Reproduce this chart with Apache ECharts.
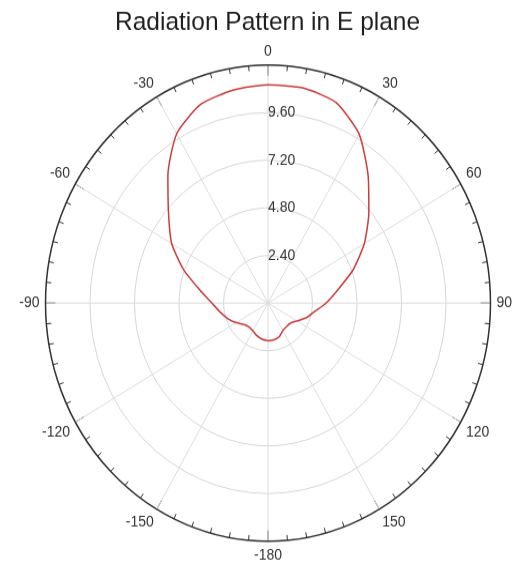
<!DOCTYPE html>
<html>
<head>
<meta charset="utf-8">
<script src="https://cdn.jsdelivr.net/npm/echarts@6/dist/echarts.min.js"></script>
<style>
  html, body { margin: 0; padding: 0; background: #fff; width: 516px; height: 565px; overflow: hidden; }
  #wrap { position: absolute; left: 0; top: 0; width: 516px; height: 528px; transform: scaleY(1.07008); transform-origin: 0 0; }
  #chart { width: 516px; height: 528px; }
</style>
</head>
<body>
<div id="wrap"><div id="chart"></div></div>
<script>
// Angles in degrees (clockwise from top, -180..180) and measured gain values
var angles = [-180,-170,-160,-150,-140,-130,-120,-110,-100,-90,-80,-70,-60,-50,-40,-30,-20,-10,
              0,10,20,30,40,50,60,70,80,90,100,110,120,130,140,150,160,170,180];
var gain = [1.90,1.85,1.75,1.62,1.58,1.68,1.98,2.30,2.62,3.02,3.72,4.82,6.00,7.00,8.40,9.85,10.65,10.90,
            11.00,11.00,10.75,9.83,8.40,7.10,6.00,4.88,3.82,3.13,2.53,2.18,1.80,1.58,1.55,1.60,1.80,1.88,1.90];
var radiusTicks = [0, 2.4, 4.8, 7.2, 9.6, 12];
var angleTickLabels = [0, 30, 60, 90, 120, 150, -180, -150, -120, -90, -60, -30];

var seriesData = angles.map(function (a, i) { return [gain[i], (a + 360) % 360]; });

var chart = echarts.init(document.getElementById('chart'), null, { renderer: 'canvas' });
chart.setOption({
  animation: false,
  title: {
    text: 'Radiation Pattern in E plane',
    left: 115,
    top: 9,
    padding: 0,
    textStyle: { fontFamily: 'Liberation Sans', fontSize: 24.5, fontWeight: 'normal', color: '#1e1e1e' }
  },
  polar: { center: [268, 283.2], radius: 222.5 },
  angleAxis: {
    type: 'value',
    min: 0,
    max: 360,
    interval: 30,
    startAngle: 90,
    clockwise: true,
    axisLine: { show: true, lineStyle: { color: '#333', width: 1.5 } },
    axisTick: { show: true, inside: true, length: 10, lineStyle: { color: '#333', width: 1 } },
    minorTick: { show: true, splitNumber: 6, length: 5, lineStyle: { color: '#333', width: 1 } },
    splitLine: { show: true, lineStyle: { color: '#dcdcdc', width: 1 } },
    axisLabel: {
      margin: 6,
      fontFamily: 'Liberation Sans',
      fontSize: 14,
      color: '#333',
      formatter: function (v) {
        var idx = Math.round(v / 30) % 12;
        return String(angleTickLabels[idx]);
      }
    }
  },
  radiusAxis: {
    type: 'value',
    min: radiusTicks[0],
    max: radiusTicks[radiusTicks.length - 1],
    interval: radiusTicks[1],
    axisLine: { show: false },
    axisTick: { show: false },
    splitLine: { show: true, lineStyle: { color: '#d6d6d6', width: 1 } },
    axisLabel: {
      showMinLabel: false,
      showMaxLabel: false,
      margin: 0,
      align: 'left',
      verticalAlign: 'middle',
      padding: [0, 0, 5, 0],
      fontFamily: 'Liberation Sans',
      fontSize: 14,
      color: '#333',
      formatter: function (v) { return v.toFixed(2); }
    }
  },
  series: [{
    type: 'line',
    coordinateSystem: 'polar',
    data: seriesData,
    showSymbol: false,
    symbol: 'none',
    smooth: 0.2,
    lineStyle: { color: '#cc3b3b', width: 1.5 }
  }]
});
</script>
</body>
</html>
